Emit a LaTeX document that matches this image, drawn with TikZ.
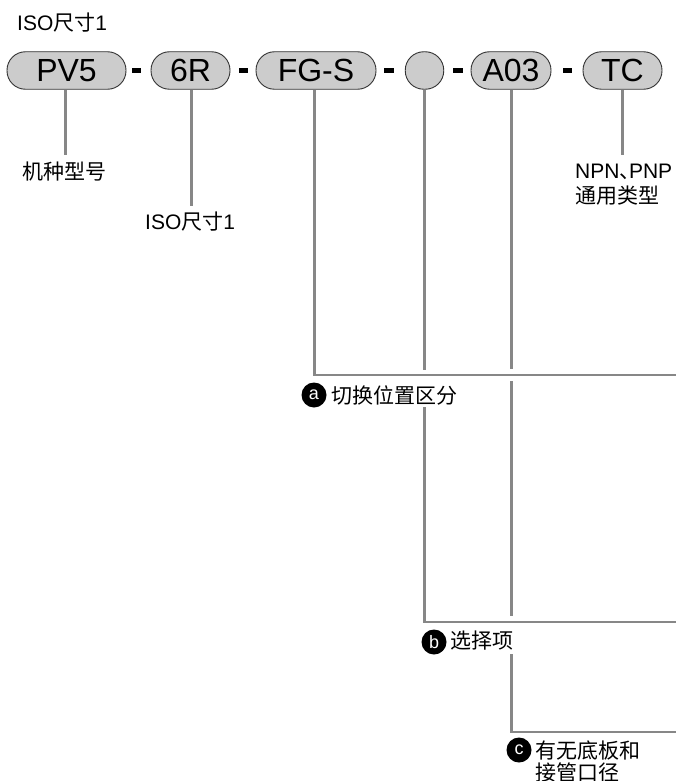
\documentclass[tikz,border=0pt]{standalone}
\usepackage{fontspec}
\setmainfont{Liberation Sans}
\newfontfamily\cjk{Noto Sans CJK SC}
\newcommand{\zh}[1]{{\cjk #1}}
\tikzset{
  pill/.style={draw=black!80,line width=0.9pt,fill=black!20,minimum height=37.5pt,rounded corners=18.5pt,inner sep=0pt,font=\fontsize{32}{32}\selectfont,text height=23pt,text depth=0pt},
  sep/.style={fill=black,draw=none,minimum width=9.5pt,minimum height=5pt,inner sep=0pt},
  lead/.style={draw=black!47,line width=2.5pt},
  txt/.style={anchor=west,inner sep=0pt,font=\fontsize{21}{25}\selectfont,align=left},
  bullet/.style={circle,fill=black,text=white,inner sep=0pt,minimum size=25pt,font=\fontsize{18}{18}\selectfont}
}
\begin{document}
\begin{tikzpicture}[x=1pt,y=-1pt]
\useasboundingbox (0,0) rectangle (676,781);
\node[txt] (title) at (17,23) {ISO\zh{尺寸}1};
\node[pill,minimum width=119pt] (pv) at (66.5,70.5) {PV5};
\node[pill,minimum width=79pt] (r6) at (190.5,70.5) {6R};
\node[pill,minimum width=120pt] (fg) at (316,70.5) {FG-S};
\node[pill,minimum width=38.5pt] (opt) at (424.5,70.5) {};
\node[pill,minimum width=80pt] (a03) at (511,70.5) {A03};
\node[pill,minimum width=79pt] (tc) at (622.5,70.5) {TC};
\node[sep] (d1) at (136.5,70.5) {};
\node[sep] (d2) at (243.5,70.5) {};
\node[sep] (d3) at (389,70.5) {};
\node[sep] (d4) at (458,70.5) {};
\node[sep] (d5) at (567.5,70.5) {};
\node[txt] (l1) at (22,172) {\zh{机种型号}};
\node[txt] (l2) at (145,222) {ISO\zh{尺寸}1};
\node[txt,font=\fontsize{21}{25}\selectfont] (l3) at (575,184.5) {NPN\zh{、}\hspace{-11.5pt}PNP\\\zh{通用类型}};
\node[bullet] (ba) at (314,395) {a};
\node[txt] (ta) at (331,395) {\zh{切换位置区分}};
\node[bullet] (bb) at (434,642) {b};
\node[txt] (tb) at (450,641) {\zh{选择项}};
\node[bullet] (bc) at (519,750) {c};
\node[txt,font=\fontsize{21}{22}\selectfont] (tc1) at (535,761) {\zh{有无底板和}\\\zh{接管口径}};
\coordinate (e1) at (65.5,155);
\coordinate (e2) at (191.3,206);
\coordinate (e3) at (676,375);
\coordinate (e4) at (424.7,370);
\coordinate (s4) at (424.7,407);
\coordinate (e4b) at (676,622);
\coordinate (e5) at (511.3,369);
\coordinate (s5) at (511.3,381);
\coordinate (e5b) at (511.3,616);
\coordinate (s5c) at (511.3,654);
\coordinate (e5c) at (676,732);
\coordinate (e6) at (622.3,155);
\draw[lead] (pv.south -| e1) -- (e1);
\draw[lead] (r6.south -| e2) -- (e2);
\draw[lead] (fg.south -| 314.3,0) -- (314.3,375) -- (e3);
\draw[lead] (opt.south -| e4) -- (e4);
\draw[lead] (s4) -- (s4 |- e4b) -- (e4b);
\draw[lead] (a03.south -| e5) -- (e5);
\draw[lead] (s5) -- (e5b);
\draw[lead] (s5c) -- (s5c |- e5c) -- (e5c);
\draw[lead] (tc.south -| e6) -- (e6);
\end{tikzpicture}
\end{document}
